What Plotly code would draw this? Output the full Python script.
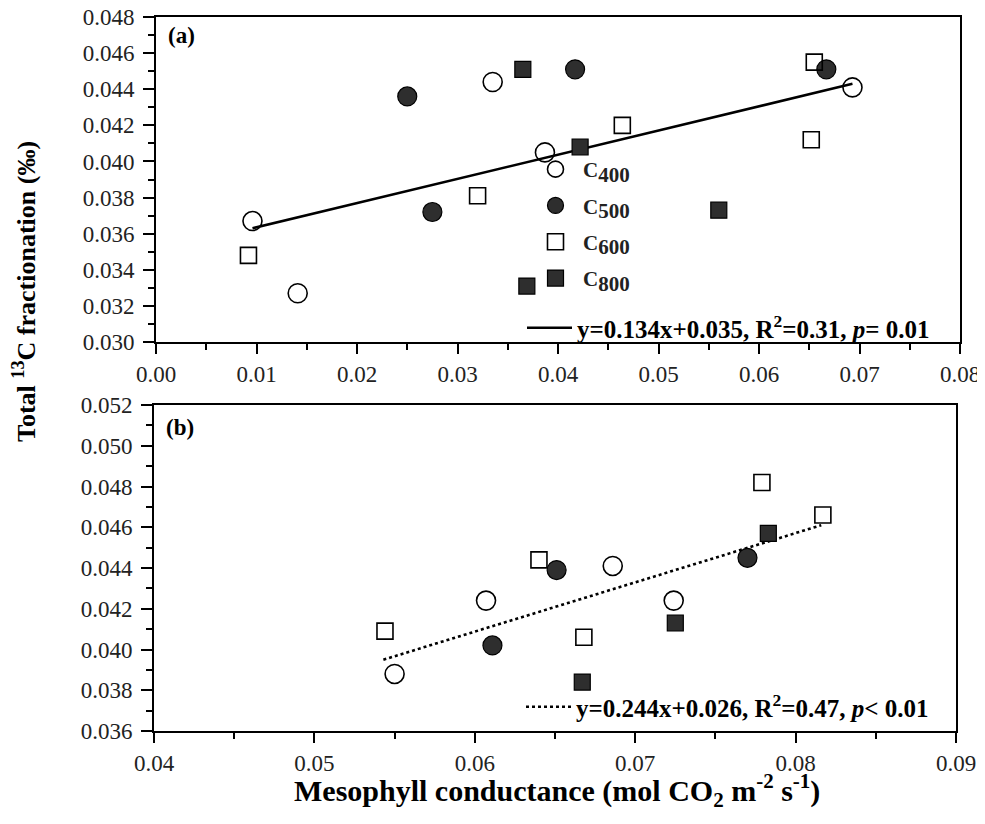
import plotly.graph_objects as go

W, H = 985, 824
FONT = "Liberation Serif"

# ---------------- Panel (a) data ----------------
a_c400_x = [0.0096, 0.0141, 0.0335, 0.0387, 0.0693]
a_c400_y = [0.0367, 0.0327, 0.0444, 0.0405, 0.0441]
a_c500_x = [0.0250, 0.0275, 0.0417, 0.0667]
a_c500_y = [0.0436, 0.0372, 0.0451, 0.0451]
a_c600_x = [0.0092, 0.0320, 0.0464, 0.0655, 0.0652]
a_c600_y = [0.0348, 0.0381, 0.0420, 0.0455, 0.0412]
a_c800_x = [0.0365, 0.0422, 0.0560, 0.0369]
a_c800_y = [0.0451, 0.0408, 0.0373, 0.0331]
a_fit_x = [0.0096, 0.0693]
a_fit_y = [0.0363, 0.0443]
a_fit_label = "y=0.134x+0.035, R<sup>2</sup>=0.31, <i>p</i>= 0.01"

# ---------------- Panel (b) data ----------------
b_c400_x = [0.0550, 0.0607, 0.0686, 0.0724]
b_c400_y = [0.0388, 0.0424, 0.0441, 0.0424]
b_c500_x = [0.0611, 0.0651, 0.0770]
b_c500_y = [0.0402, 0.0439, 0.0445]
b_c600_x = [0.0544, 0.0640, 0.0668, 0.0779, 0.0817]
b_c600_y = [0.0409, 0.0444, 0.0406, 0.0482, 0.0466]
b_c800_x = [0.0667, 0.0725, 0.0783]
b_c800_y = [0.0384, 0.0413, 0.0457]
b_fit_x = [0.0543, 0.0816]
b_fit_y = [0.0395, 0.0461]
b_fit_label = "y=0.244x+0.026, R<sup>2</sup>=0.47, <i>p</i>< 0.01"

series_names = [
    "C<sub><span style='font-size:21px'>400</span></sub>",
    "C<sub><span style='font-size:21px'>500</span></sub>",
    "C<sub><span style='font-size:21px'>600</span></sub>",
    "C<sub><span style='font-size:21px'>800</span></sub>",
]

FILL = "#2e2e2e"
styles = [
    dict(symbol="circle-open", size=19, color="black", line=dict(width=1.6, color="black")),
    dict(symbol="circle", size=19, color=FILL, line=dict(width=1.2, color="black")),
    dict(symbol="square-open", size=16, color="black", line=dict(width=1.6, color="black")),
    dict(symbol="square", size=16, color=FILL, line=dict(width=1.2, color="black")),
]

fig = go.Figure()

a_sets = [(a_c400_x, a_c400_y), (a_c500_x, a_c500_y), (a_c600_x, a_c600_y), (a_c800_x, a_c800_y)]
b_sets = [(b_c400_x, b_c400_y), (b_c500_x, b_c500_y), (b_c600_x, b_c600_y), (b_c800_x, b_c800_y)]

fig.add_trace(go.Scatter(x=a_fit_x, y=a_fit_y, mode="lines", name=a_fit_label,
                         line=dict(color="black", width=2.6), xaxis="x", yaxis="y",
                         legend="legend2", showlegend=True))
fig.add_trace(go.Scatter(x=b_fit_x, y=b_fit_y, mode="lines", name=b_fit_label,
                         line=dict(color="black", width=2.6, dash="dot"), xaxis="x2", yaxis="y2",
                         legend="legend3", showlegend=True))

for i, ((xs, ys), name, st) in enumerate(zip(a_sets, series_names, styles)):
    fig.add_trace(go.Scatter(x=xs, y=ys, mode="markers", name=name, marker=st,
                             xaxis="x", yaxis="y", legendgroup=f"g{i}", showlegend=True))
for i, ((xs, ys), name, st) in enumerate(zip(b_sets, series_names, styles)):
    fig.add_trace(go.Scatter(x=xs, y=ys, mode="markers", name=name, marker=st,
                             xaxis="x2", yaxis="y2", legendgroup=f"g{i}", showlegend=False))

axis_common = dict(
    showline=True, linewidth=2, linecolor="black", mirror=True,
    showgrid=False, zeroline=False, ticks="outside", tickwidth=2, tickcolor="black",
    tickfont=dict(family=FONT, size=23, color="#222"), ticklabeloverflow="allow",
)
minor_x = dict(dtick=0.005, ticks="outside", ticklen=6, tickwidth=2, tickcolor="black")
minor_y = dict(dtick=0.001, ticks="outside", ticklen=6, tickwidth=2, tickcolor="black")

# the page body adds an 8px offset; compensate so screen pixels match
OFF = 8

def px_x(p):
    return (p - OFF) / W

def px_y(p):
    return 1 - (p - OFF) / H

fig.update_layout(
    width=W, height=H,
    margin=dict(l=0, r=0, t=0, b=0, pad=0, autoexpand=False),
    paper_bgcolor="white", plot_bgcolor="white",
    font=dict(family=FONT, color="black"),
    xaxis=dict(domain=[px_x(156), px_x(960)], range=[0, 0.08], dtick=0.01, tickformat=".2f",
               anchor="y", ticklen=10, minor=minor_x, **axis_common),
    yaxis=dict(domain=[px_y(342), px_y(17)], range=[0.030, 0.048], dtick=0.002, tickformat=".3f",
               anchor="x", ticklen=11, ticklabelstandoff=4, minor=minor_y, **axis_common),
    xaxis2=dict(domain=[px_x(154), px_x(956)], range=[0.04, 0.09], dtick=0.01, tickformat=".2f",
                anchor="y2", ticklen=10, minor=minor_x, **axis_common),
    yaxis2=dict(domain=[px_y(731), px_y(405)], range=[0.036, 0.052], dtick=0.002, tickformat=".3f",
                anchor="x2", ticklen=11, ticklabelstandoff=4, minor=minor_y, **axis_common),
    legend=dict(x=px_x(528), y=px_y(149), xanchor="left", yanchor="top",
                bgcolor="rgba(0,0,0,0)", tracegroupgap=6, itemwidth=45,
                font=dict(family=FONT, size=21, color="#222", weight="bold")),
    legend2=dict(x=px_x(522), y=px_y(328), xanchor="left", yanchor="middle",
                 bgcolor="rgba(0,0,0,0)", itemwidth=45,
                 font=dict(family=FONT, size=25, color="black", weight="bold")),
    legend3=dict(x=px_x(521), y=px_y(707), xanchor="left", yanchor="middle",
                 bgcolor="rgba(0,0,0,0)", itemwidth=45,
                 font=dict(family=FONT, size=25, color="black", weight="bold")),
    annotations=[
        dict(text="<b>(a)</b>", x=px_x(166), y=px_y(36), xref="paper", yref="paper",
             xanchor="left", yanchor="middle", showarrow=False,
             font=dict(family=FONT, size=23, color="black")),
        dict(text="<b>(b)</b>", x=px_x(164), y=px_y(427), xref="paper", yref="paper",
             xanchor="left", yanchor="middle", showarrow=False,
             font=dict(family=FONT, size=23, color="black")),
        dict(text="<b>Total <sup>13</sup>C fractionation (‰)</b>", x=px_x(24), y=px_y(292),
             xref="paper", yref="paper", xanchor="center", yanchor="middle",
             textangle=-90, showarrow=False,
             font=dict(family=FONT, size=26, color="black")),
        dict(text="<b>Mesophyll conductance (mol CO<sub>2</sub> m<sup>-2</sup> s<sup>-1</sup>)</b>",
             x=px_x(557), y=px_y(790), xref="paper", yref="paper",
             xanchor="center", yanchor="middle", showarrow=False,
             font=dict(family=FONT, size=30, color="black")),
    ],
)

fig.write_html("out.html")
